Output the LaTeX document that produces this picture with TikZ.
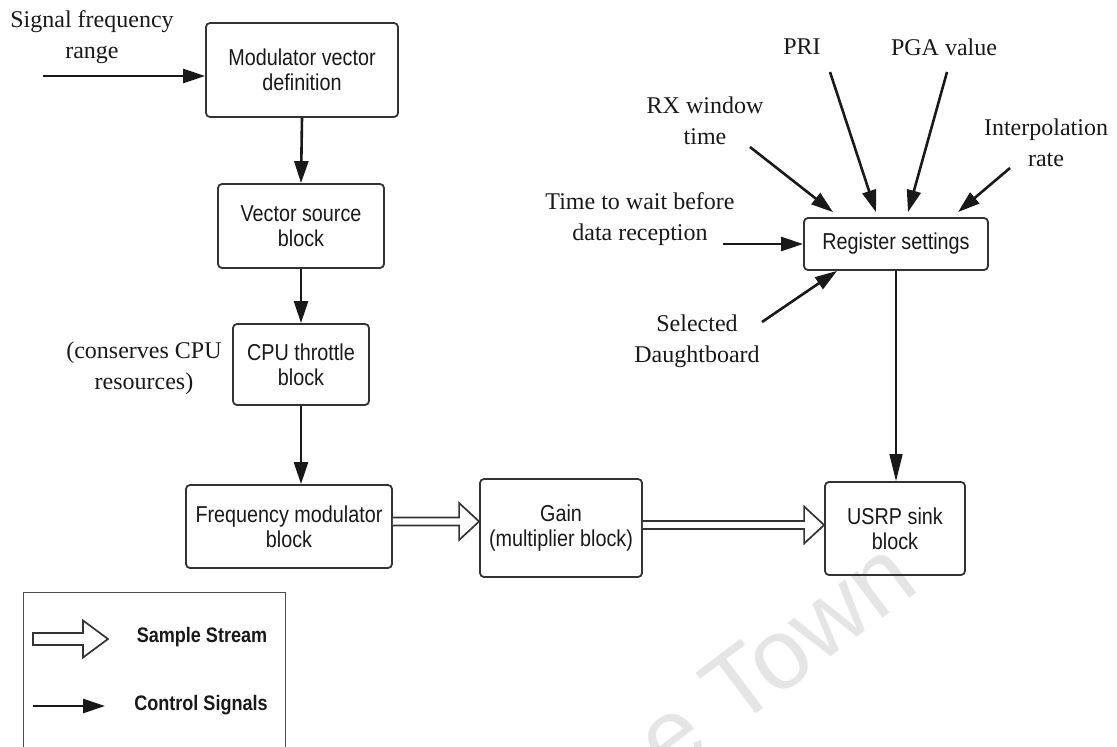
\documentclass[tikz,border=0pt]{standalone}
\usepackage{fontspec}
\setmainfont{Liberation Serif}
\newfontfamily\blockfont[FakeStretch=0.86]{Liberation Sans}
\newfontfamily\markfont{Liberation Sans}
\usetikzlibrary{arrows.meta,calc}

% wide hollow arrow for sample streams: #1 start, #2 tip, #3 half shaft width
\newcommand\hollowarrow[3]{%
  \draw[hollow] ($(#1)+(0,#3)$) -- ($(#2)+(-20,#3)$) -- ($(#2)+(-20,18.5)$) -- (#2)
    -- ($(#2)+(-20,-18.5)$) -- ($(#2)+(-20,-#3)$) -- ($(#1)+(0,-#3)$);}

\begin{document}
\begin{tikzpicture}[x=1pt,y=-1pt,
  block/.style={draw=black!80, line width=1.8pt, rounded corners=4pt, align=center,
    inner sep=0pt, font=\blockfont\fontsize{23}{25}\selectfont, text=black!90},
  lbl/.style={align=center, inner sep=0pt, font=\fontsize{24}{31}\selectfont, text=black!90},
  ctrl/.style={line width=2.6pt, draw=black!90, -{Triangle[length=22pt,width=14pt]}},
  thinctrl/.style={line width=1.6pt, draw=black!90, -{Triangle[length=27pt,width=13pt]}},
  hollow/.style={draw=black!80, line width=1.7pt, line join=miter, fill=white},
  legtext/.style={inner sep=0pt, font=\blockfont\bfseries\fontsize{21}{24}\selectfont, text=black!90}
]
\useasboundingbox (0,0) rectangle (1117,747);

% faint watermark
\node[rotate=37, text=black!10, inner sep=0pt,
      font=\markfont\fontsize{100}{100}\selectfont] (mark) at (775,657) {e Town};

% processing chain
\node[block, minimum width=192, minimum height=94] (mvd) at (302,70) {Modulator vector\\definition};
\node[block, minimum width=166, minimum height=84] (vsb) at (301,226) {Vector source\\block};
\node[block, minimum width=136, minimum height=81] (cpu) at (301,364.5) {CPU throttle\\block};
\node[block, minimum width=206, minimum height=83] (fm) at (289,526.5) {Frequency modulator\\block};
\node[block, minimum width=162, minimum height=98] (gain) at (561,528) {Gain\\(multiplier block)};
\node[block, minimum width=140, minimum height=93] (usrp) at (895,528.5) {USRP sink\\block};
\node[block, minimum width=184, minimum height=52] (reg) at (896,244) {Register settings};

% input labels
\node[lbl] (sig) at (92,37) {Signal frequency\\range};
\node[lbl] (cons) at (144,368) {(conserves CPU\\resources)};
\node[lbl] (rx) at (705,121) {RX window\\time};
\node[lbl] (pri) at (802,47) {PRI};
\node[lbl] (pga) at (944,47) {PGA value};
\node[lbl] (interp) at (1046,143) {Interpolation\\rate};
\node[lbl] (wait) at (640,219) {Time to wait before\\data reception};
\node[lbl] (sel) at (697,341) {Selected\\Daughtboard};

% control connectors
\coordinate (sigin) at (43,76);
\draw[ctrl] (sigin) -- (sigin -| mvd.west);
\draw[ctrl] (mvd.south) -- (vsb.north);
\draw[ctrl] (vsb.south) -- (cpu.north);
\draw[ctrl] (cpu.south) -- (cpu.south |- fm.north);

\coordinate (rxin) at (750,147);
\coordinate (priin) at (830,72);
\coordinate (pgain) at (947,72);
\coordinate (interpin) at (1010,168);
\coordinate (waitin) at (723,244);
\coordinate (selin) at (762,322);
\draw[ctrl] (rxin) -- ($(reg.north)+(-63,-5)$);
\draw[ctrl] (priin) -- ($(reg.north)+(-20,-5)$);
\draw[ctrl] (pgain) -- ($(reg.north)+(12,-5)$);
\draw[ctrl] (interpin) -- ($(reg.north)+(62,-5)$);
\draw[ctrl] (waitin) -- (reg.west);
\draw[ctrl] (selin) -- ($(reg.south)+(-59,0)$);
\draw[thinctrl] (reg.south) -- (reg.south |- usrp.north);

% sample stream connectors
\coordinate (s1) at ($(fm.east)+(0,-5)$);
\coordinate (e1) at (s1 -| gain.west);
\hollowarrow{s1}{e1}{4}
\coordinate (s2) at ($(gain.east)+(0,-3)$);
\coordinate (e2) at (s2 -| usrp.west);
\hollowarrow{s2}{e2}{4}

% legend
\node[draw=black!70, line width=1.3pt, minimum width=262, minimum height=180,
      inner sep=0pt, anchor=north west] (legend) at (23,592) {};
\draw[hollow] (33,633) -- (83,633) -- (83,620.5) -- (108,639) -- (83,657.5)
  -- (83,645) -- (33,645) -- cycle;
\node[legtext] (lss) at (202,637) {Sample Stream};
\draw[ctrl] (33,706) -- (105,706);
\node[legtext] (lcs) at (201,705) {Control Signals};
\end{tikzpicture}
\end{document}
